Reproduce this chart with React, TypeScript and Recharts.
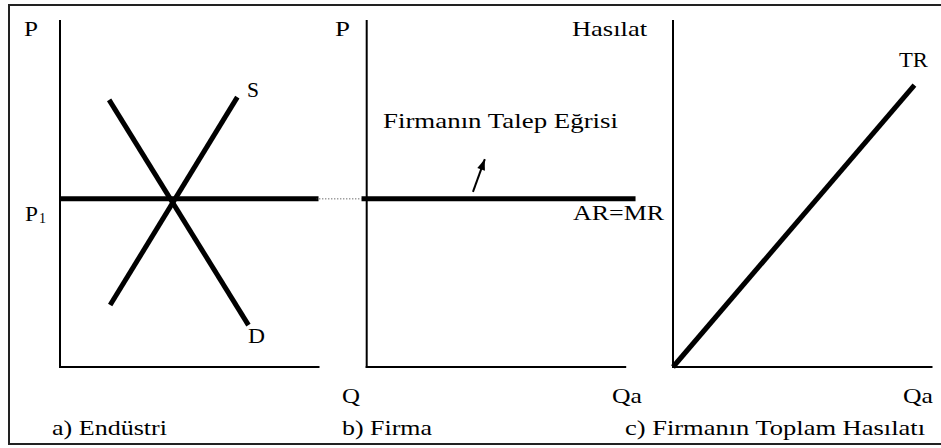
import React from "react";
import { LineChart, Line, XAxis, YAxis, ReferenceLine } from "recharts";

// a) Endüstri — quantity (q) and price (p) on a 0–100 scale
const industryPrice = [{ q: 0, p: 48.6 }, { q: 100, p: 48.6 }];
const supply = [{ q: 19.4, p: 17.9 }, { q: 68.6, p: 78.0 }];
const demand = [{ q: 19.0, p: 77.2 }, { q: 72.9, p: 12.1 }];

// b) Firma — the firm takes P1 as given
const firmDemand = [{ q: -2, p: 48.6 }, { q: 104, p: 48.6 }];
const priceLink = [{ q: -19.5, p: 48.6 }, { q: -2, p: 48.6 }];
const labelArrow = [{ q: 41.1, p: 50.6 }, { q: 45.7, p: 60.1 }];

// c) Firmanın Toplam Hasılatı
const totalRevenue = [{ q: 0, p: 0 }, { q: 93.4, p: 81.5 }];

const PAD = 14;
const AXIS_TOP = 21;
const AXIS_BOTTOM = 367;
const UNIT_X = 2.585;
const UNIT_Y = (AXIS_BOTTOM - AXIS_TOP) / 100;
const FONT = "Liberation Serif, Times New Roman, serif";

const yAxisSeg = [{ x: 0, y: 0 }, { x: 0, y: 100 }];
const xAxisSeg = [{ x: 0, y: 0 }, { x: 100, y: 0 }];

function Panel({ axisLeft, xDomain, children }: {
  axisLeft: number;
  xDomain: [number, number];
  children: React.ReactNode;
}) {
  const plotLeft = axisLeft + xDomain[0] * UNIT_X;
  const plotWidth = (xDomain[1] - xDomain[0]) * UNIT_X;
  return (
    <div style={{ position: "absolute", left: plotLeft - PAD, top: AXIS_TOP - PAD }}>
      <LineChart
        width={plotWidth + PAD * 2}
        height={AXIS_BOTTOM - AXIS_TOP + PAD * 2}
        margin={{ top: PAD, right: PAD, bottom: PAD, left: PAD }}
      >
        <XAxis type="number" dataKey="q" domain={xDomain} hide />
        <YAxis type="number" dataKey="p" domain={[0, 100]} hide />
        <ReferenceLine segment={yAxisSeg} stroke="#000" strokeWidth={2} strokeLinecap="square" />
        <ReferenceLine segment={xAxisSeg} stroke="#000" strokeWidth={2} strokeLinecap="square" />
        {children}
      </LineChart>
    </div>
  );
}

// arrow head drawn on the last point of the pointer line
function ArrowDot(props: any) {
  const { cx, cy, index } = props;
  if (index !== labelArrow.length - 1 || cx == null) return <g key={"ad" + index} />;
  const a = labelArrow[0];
  const b = labelArrow[1];
  const ang = Math.atan2(-(b.p - a.p) * UNIT_Y, (b.q - a.q) * UNIT_X);
  const len = 11;
  const half = 4;
  const bx = cx - Math.cos(ang) * len;
  const by = cy - Math.sin(ang) * len;
  const nx = -Math.sin(ang) * half;
  const ny = Math.cos(ang) * half;
  return (
    <polygon
      key={"ad" + index}
      points={`${cx},${cy} ${bx + nx},${by + ny} ${bx - nx},${by - ny}`}
      fill="#000"
    />
  );
}

type Lbl = { text: string; x: number; y: number; w: number; size?: number };

const labels: Lbl[] = [
  { text: "P", x: 24, y: 36, w: 14 },
  { text: "S", x: 247, y: 97, w: 12 },
  { text: "D", x: 248, y: 343, w: 17 },
  { text: "P", x: 25, y: 221, w: 13 },
  { text: "1", x: 39, y: 223, w: 7, size: 14 },
  { text: "a) Endüstri", x: 52, y: 435, w: 115 },
  { text: "P", x: 335, y: 36, w: 15 },
  { text: "Firmanın Talep Eğrisi", x: 383, y: 128, w: 235 },
  { text: "AR=MR", x: 573, y: 220, w: 91 },
  { text: "Q", x: 342, y: 403, w: 18 },
  { text: "Qa", x: 612, y: 403, w: 30 },
  { text: "b) Firma", x: 342, y: 435, w: 90 },
  { text: "Hasılat", x: 572, y: 36, w: 75 },
  { text: "TR", x: 899, y: 67, w: 29 },
  { text: "Qa", x: 903, y: 403, w: 30 },
  { text: "c) Firmanın Toplam Hasılatı", x: 625, y: 435, w: 300 },
];

export default function App() {
  return (
    <div style={{ position: "absolute", left: 0, top: 0, width: 941, height: 448, background: "#fff", overflow: "hidden" }}>
      <div
        style={{
          position: "absolute",
          left: 8,
          top: 4,
          width: 960,
          height: 441,
          boxSizing: "border-box",
          borderLeft: "2px solid #222",
          borderTop: "2px solid #222",
          borderBottom: "2px solid #222",
        }}
      />

      <Panel axisLeft={60} xDomain={[0, 100]}>
        <Line data={industryPrice} dataKey="p" type="linear" stroke="#000" strokeWidth={5} dot={false} isAnimationActive={false} />
        <Line data={supply} dataKey="p" type="linear" stroke="#000" strokeWidth={5} dot={false} isAnimationActive={false} />
        <Line data={demand} dataKey="p" type="linear" stroke="#000" strokeWidth={5} dot={false} isAnimationActive={false} />
      </Panel>

      <Panel axisLeft={367} xDomain={[-20, 105]}>
        <Line data={priceLink} dataKey="p" type="linear" stroke="#333" strokeWidth={1} strokeDasharray="1 2" dot={false} isAnimationActive={false} />
        <Line data={firmDemand} dataKey="p" type="linear" stroke="#000" strokeWidth={5} dot={false} isAnimationActive={false} />
        <Line data={labelArrow} dataKey="p" type="linear" stroke="#000" strokeWidth={2} dot={ArrowDot} activeDot={false} isAnimationActive={false} />
      </Panel>

      <Panel axisLeft={673} xDomain={[0, 100]}>
        <Line data={totalRevenue} dataKey="p" type="linear" stroke="#000" strokeWidth={5} dot={false} isAnimationActive={false} />
      </Panel>

      <svg width={941} height={448} style={{ position: "absolute", left: 0, top: 0, pointerEvents: "none" }}>
        {labels.map((l, i) => (
          <text
            key={i}
            x={l.x}
            y={l.y}
            style={{ fontFamily: FONT, fontSize: l.size ?? 21 }}
            fill="#000"
            textLength={l.w}
            lengthAdjust="spacingAndGlyphs"
          >
            {l.text}
          </text>
        ))}
      </svg>
    </div>
  );
}
